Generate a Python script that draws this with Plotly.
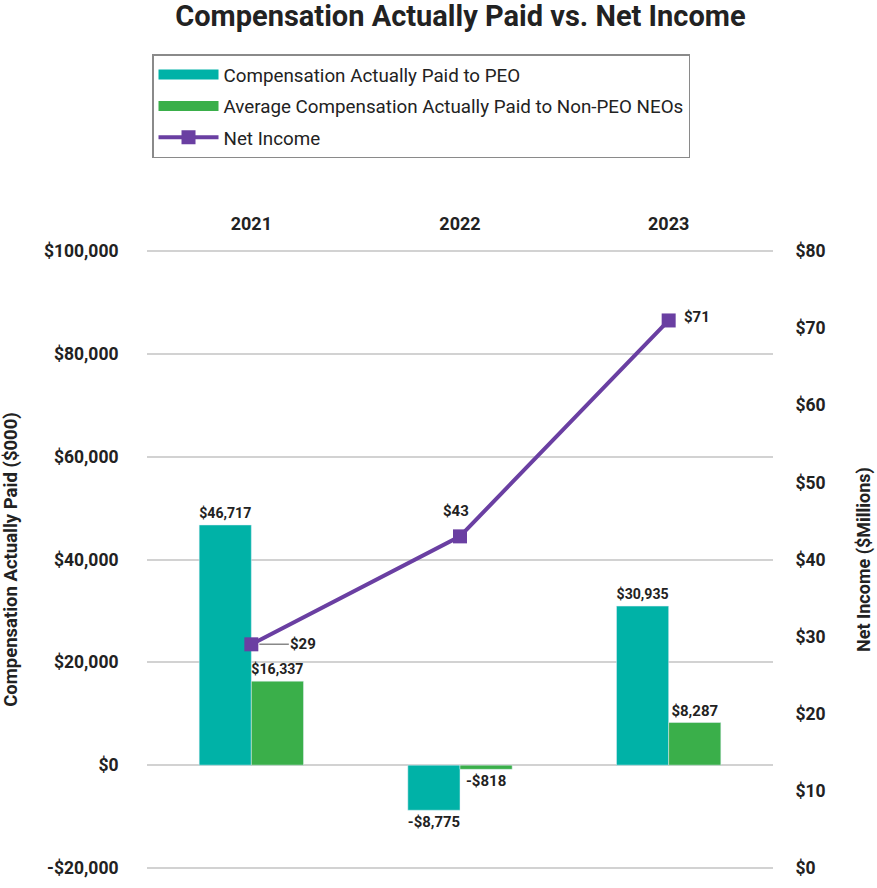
import plotly.graph_objects as go

years = ["2021", "2022", "2023"]
peo_cap = [46717, -8775, 30935]
neo_cap = [16337, -818, 8287]
net_income = [29, 43, 71]

left_ticks = [-20000, 0, 20000, 40000, 60000, 80000, 100000]
right_ticks = [0, 10, 20, 30, 40, 50, 60, 70, 80]

PEO_NAME = "Compensation Actually Paid to PEO"
NEO_NAME = "Average Compensation Actually Paid to Non-PEO NEOs"
NI_NAME = "Net Income"


def money(v):
    return ("-$" if v < 0 else "$") + f"{abs(v):,}"


TEAL = "#00B2A7"
GREEN = "#3AAF4A"
PURPLE = "#6A3FA2"
FONT = "Roboto"
TXT = "#222"

# small padding so the gridlines at both range ends are drawn
PAD_L = 400
PAD_R = PAD_L * (right_ticks[-1] - right_ticks[0]) / (left_ticks[-1] - left_ticks[0])

fig = go.Figure()
fig.add_trace(go.Bar(
    x=years, y=peo_cap, name=PEO_NAME, showlegend=False,
    marker_color=TEAL, text=[f"<b>{money(v)}</b>" for v in peo_cap], textposition="outside",
    textfont=dict(family=FONT, size=15, color=TXT), cliponaxis=False, yaxis="y",
))
fig.add_trace(go.Bar(
    x=years, y=neo_cap, name=NEO_NAME, showlegend=False,
    marker_color=GREEN, text=[f"<b>{money(v)}</b>" for v in neo_cap], textposition="outside",
    textfont=dict(family=FONT, size=15, color=TXT), cliponaxis=False, yaxis="y",
))
fig.add_trace(go.Scatter(
    x=years, y=net_income, name=NI_NAME, mode="lines+markers",
    line=dict(color=PURPLE, width=4), marker=dict(symbol="square", size=14, color=PURPLE),
    legendgroup="c", legendrank=3, yaxis="y2", cliponaxis=False,
))
# legend entries drawn as wide colour swatches for the bar series
fig.add_trace(go.Scatter(x=[None], y=[None], mode="lines", name=PEO_NAME,
                         line=dict(color=TEAL, width=14), legendgroup="a", legendrank=1))
fig.add_trace(go.Scatter(x=[None], y=[None], mode="lines", name=NEO_NAME,
                         line=dict(color=GREEN, width=14), legendgroup="b", legendrank=2))

# net income labels (category axis annotations use category index)
fig.add_annotation(x=0, y=net_income[0], xref="x", yref="y2",
                   text=f"<b>${net_income[0]}</b>",
                   showarrow=True, ax=52, ay=0, arrowhead=0, arrowwidth=1.5,
                   arrowcolor="#888", standoff=8, xanchor="center",
                   font=dict(family=FONT, size=15, color=TXT))
fig.add_annotation(x=1, y=net_income[1], xref="x", yref="y2",
                   text=f"<b>${net_income[1]}</b>",
                   showarrow=False, yshift=25, xshift=-4,
                   font=dict(family=FONT, size=15, color=TXT))
fig.add_annotation(x=2, y=net_income[2], xref="x", yref="y2",
                   text=f"<b>${net_income[2]}</b>",
                   showarrow=False, xshift=28, yshift=3,
                   font=dict(family=FONT, size=15, color=TXT))

fig.update_layout(
    width=877, height=888,
    margin=dict(l=147, r=104, t=249, b=18, autoexpand=False),
    paper_bgcolor="white", plot_bgcolor="white",
    barmode="group", bargap=0.5, bargroupgap=0,
    font=dict(family=FONT, color=TXT),
    title=dict(text="<b>Compensation Actually Paid vs. Net Income</b>",
               x=0.525, xanchor="center", y=0.982, yanchor="middle",
               font=dict(family=FONT, size=29, color=TXT)),
    legend=dict(x=0.008, y=1.3136,
                xanchor="left", yanchor="top",
                bordercolor="#8a8a8a", borderwidth=1.5, bgcolor="white",
                font=dict(family=FONT, size=18.8, color=TXT),
                traceorder="grouped", tracegroupgap=4, itemwidth=60),
    xaxis=dict(type="category", side="top", showgrid=False, showline=False, zeroline=False,
               automargin=False, range=[-0.5, 2.5],
               ticks="outside", ticklen=11, tickcolor="rgba(0,0,0,0)",
               tickvals=years, ticktext=[f"<b>{y}</b>" for y in years],
               tickfont=dict(family=FONT, size=18, color=TXT)),
    yaxis=dict(range=[left_ticks[0] - PAD_L, left_ticks[-1] + PAD_L], tickvals=left_ticks,
               automargin=False,
               ticktext=[f"<b>{money(v)}</b>" for v in left_ticks],
               showgrid=True, gridcolor="#d2d2d2", gridwidth=1.5, zeroline=False,
               showline=False, ticks="outside", ticklen=24, tickcolor="rgba(0,0,0,0)",
               tickfont=dict(family=FONT, size=17.5, color=TXT),
               title=dict(text="<b>Compensation Actually Paid ($000)</b>", standoff=22,
                          font=dict(family=FONT, size=18.5, color=TXT))),
    yaxis2=dict(range=[right_ticks[0] - PAD_R, right_ticks[-1] + PAD_R], tickvals=right_ticks,
                automargin=False,
                ticktext=[f"<b>${v}</b>" for v in right_ticks],
                overlaying="y", side="right", showgrid=False, zeroline=False,
                showline=False, ticks="outside", ticklen=18, tickcolor="rgba(0,0,0,0)",
                tickfont=dict(family=FONT, size=17.5, color=TXT),
                title=dict(text="<b>Net Income ($Millions)</b>", standoff=32,
                           font=dict(family=FONT, size=18, color=TXT))),
)

fig.write_html("out.html")
